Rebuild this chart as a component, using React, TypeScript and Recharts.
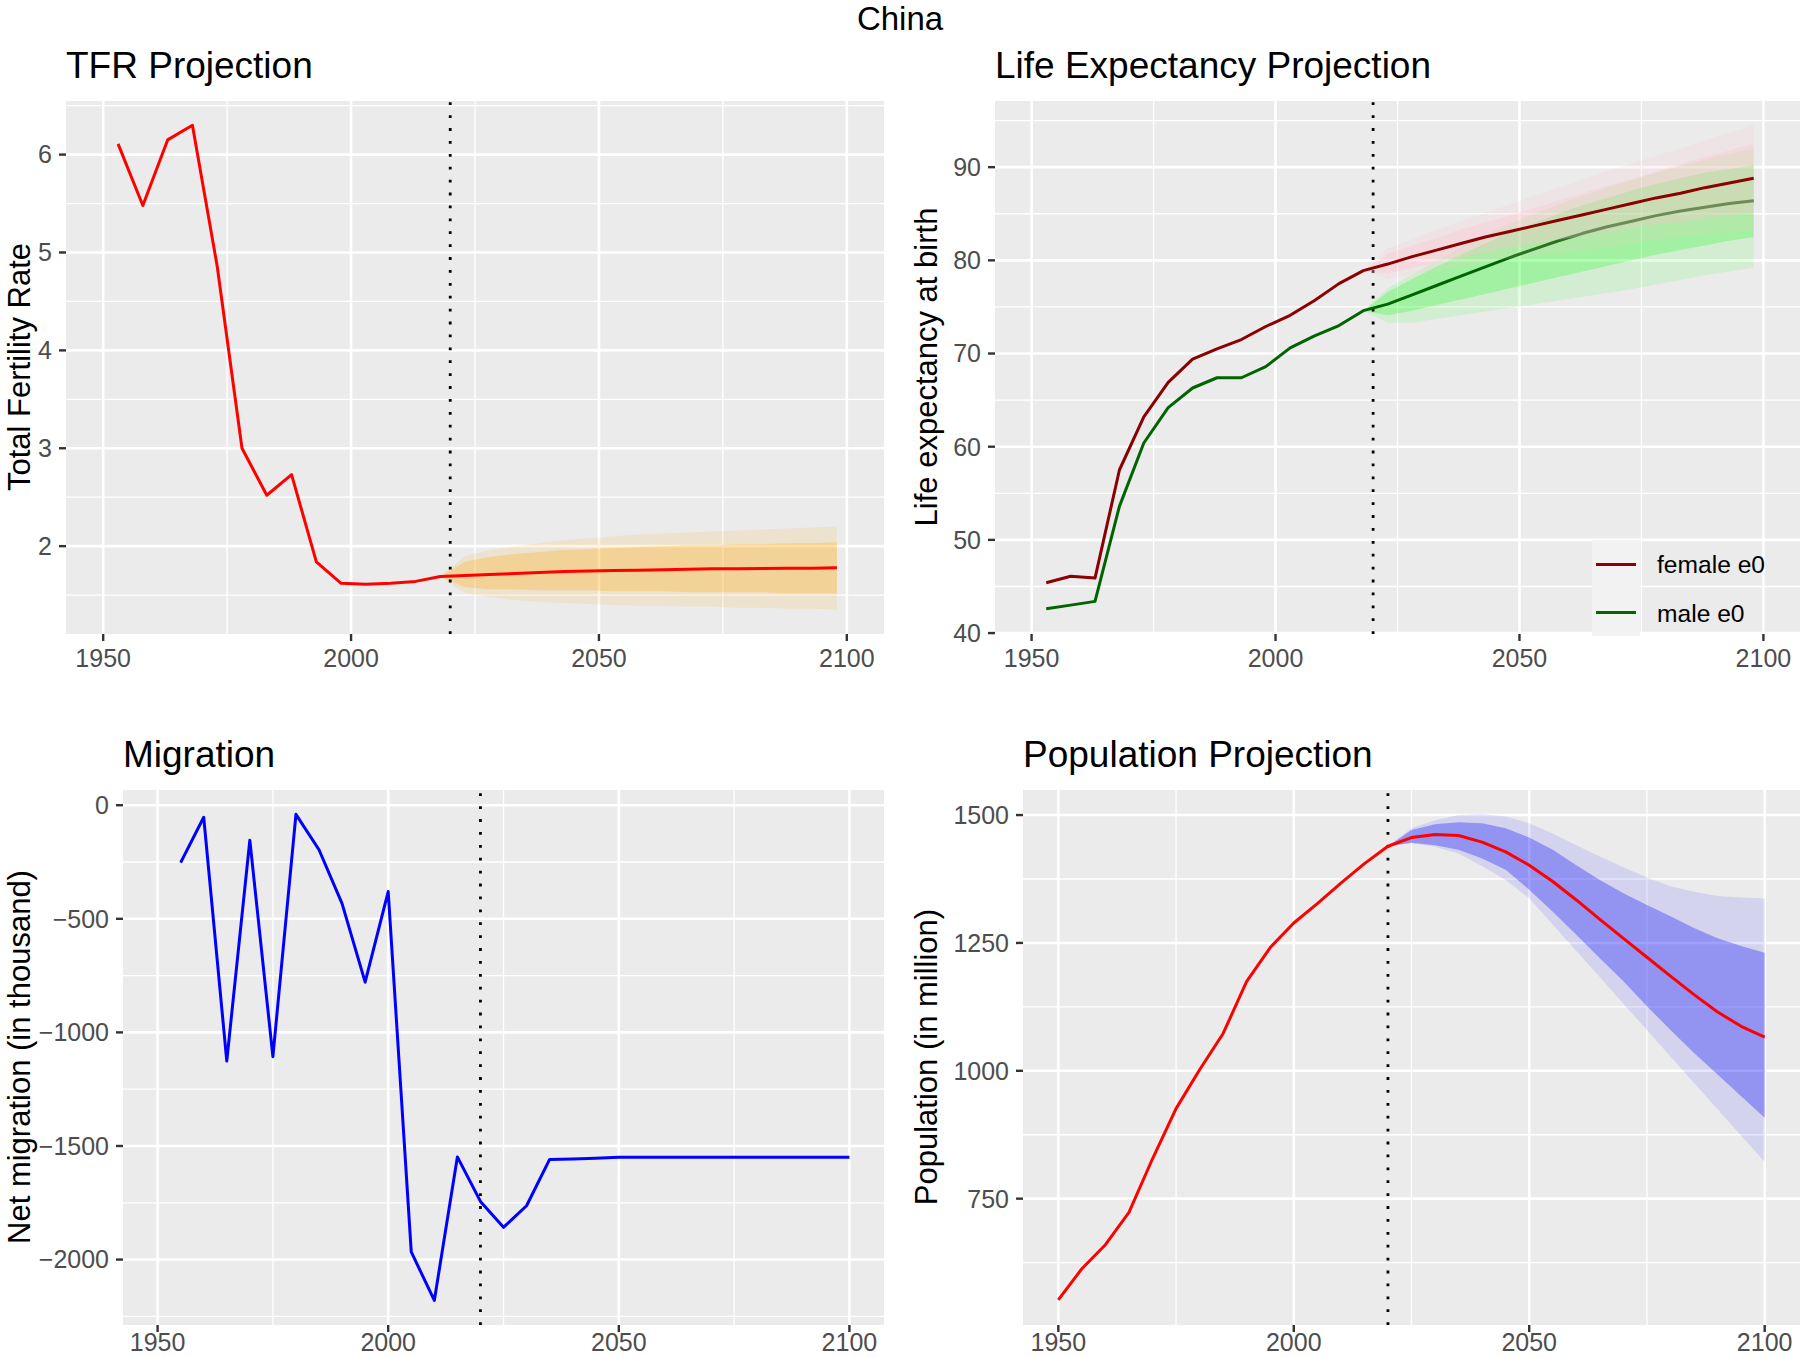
import React from 'react';
import {
  Area,
  CartesianGrid,
  ComposedChart,
  Line,
  ReferenceLine,
  XAxis,
  YAxis,
} from 'recharts';

const FONT = '"Liberation Sans", Arial, Helvetica, sans-serif';

// shared x axis (ggplot expands 1950-2100 by 5%)
const X_DOMAIN: [number, number] = [1942.5, 2107.5];
const X_TICKS = [1950, 2000, 2050, 2100];
const X_MINOR = [1975, 2025, 2075];
const PROJECTION_START = 2020;

// ---- TFR ----
const tfrYears = [
  1953, 1958, 1963, 1968, 1973, 1978, 1983, 1988, 1993, 1998, 2003, 2008, 2013, 2018, 2023,
  2028, 2033, 2038, 2043, 2048, 2053, 2058, 2063, 2068, 2073, 2078, 2083, 2088, 2093, 2098,
];
const tfrMedian = [
  6.11, 5.48, 6.15, 6.3, 4.86, 3.0, 2.52, 2.73, 1.84, 1.62, 1.61, 1.62, 1.64, 1.69, 1.7, 1.71,
  1.72, 1.73, 1.74, 1.745, 1.75, 1.755, 1.76, 1.765, 1.77, 1.77, 1.772, 1.775, 1.775, 1.78,
];
const tfrProjYears = [
  2018, 2023, 2028, 2033, 2038, 2043, 2048, 2053, 2058, 2063, 2068, 2073, 2078, 2083, 2088, 2093, 2098,
];
const tfrLow80 = [1.69, 1.58, 1.56, 1.56, 1.55, 1.55, 1.55, 1.54, 1.54, 1.54, 1.53, 1.53, 1.53, 1.53, 1.52, 1.52, 1.52];
const tfrHigh80 = [1.69, 1.84, 1.89, 1.92, 1.94, 1.96, 1.97, 1.98, 1.99, 2.0, 2.01, 2.01, 2.02, 2.02, 2.03, 2.03, 2.04];
const tfrLow95 = [1.69, 1.52, 1.48, 1.45, 1.43, 1.42, 1.41, 1.4, 1.39, 1.39, 1.38, 1.38, 1.37, 1.37, 1.36, 1.36, 1.35];
const tfrHigh95 = [1.69, 1.9, 1.96, 2.0, 2.03, 2.06, 2.08, 2.1, 2.12, 2.13, 2.14, 2.15, 2.16, 2.17, 2.18, 2.19, 2.2];

// ---- life expectancy ----
const e0Years = tfrYears;
const femaleE0 = [
  45.4, 46.1, 45.9, 57.5, 63.2, 66.9, 69.4, 70.5, 71.5, 72.9, 74.1, 75.7, 77.5, 78.9, 79.6, 80.4,
  81.1, 81.8, 82.5, 83.1, 83.7, 84.3, 84.9, 85.5, 86.1, 86.7, 87.2, 87.8, 88.3, 88.8,
];
const maleE0 = [
  42.6, 43.0, 43.4, 53.6, 60.4, 64.2, 66.3, 67.4, 67.4, 68.6, 70.6, 71.9, 73.0, 74.6, 75.3, 76.3,
  77.3, 78.3, 79.3, 80.3, 81.2, 82.1, 82.9, 83.6, 84.2, 84.8, 85.3, 85.7, 86.1, 86.4,
];
const e0ProjYears = tfrProjYears;
const femaleLow80 = [78.9, 78.6, 79.2, 79.8, 80.3, 80.9, 81.4, 81.8, 82.2, 82.6, 83.0, 83.5, 83.9, 84.1, 84.5, 84.8, 85.1];
const femaleHigh80 = [78.9, 80.7, 81.6, 82.4, 83.3, 84.1, 84.8, 85.6, 86.4, 87.2, 88.0, 88.7, 89.5, 90.3, 91.1, 91.8, 92.5];
const femaleLow95 = [78.9, 78.0, 78.5, 78.9, 79.4, 79.8, 80.2, 80.5, 80.8, 81.1, 81.4, 81.8, 82.2, 82.5, 82.8, 83.0, 83.1];
const femaleHigh95 = [78.9, 81.3, 82.3, 83.3, 84.2, 85.1, 86.0, 86.9, 87.8, 88.7, 89.6, 90.4, 91.2, 92.0, 92.9, 93.7, 94.5];
const maleLow80 = [74.6, 74.1, 74.6, 75.2, 75.8, 76.4, 77.0, 77.6, 78.2, 78.8, 79.4, 80.0, 80.6, 81.1, 81.6, 82.1, 82.5];
const maleHigh80 = [74.6, 76.6, 78.0, 79.3, 80.6, 81.8, 83.0, 84.0, 85.0, 85.9, 86.7, 87.5, 88.2, 88.8, 89.4, 89.8, 90.2];
const maleLow95 = [74.6, 73.3, 73.3, 73.7, 74.1, 74.5, 74.9, 75.3, 75.7, 76.1, 76.5, 76.9, 77.4, 77.9, 78.4, 78.8, 79.2];
const maleHigh95 = [74.6, 77.0, 78.5, 80.0, 81.4, 82.7, 83.9, 85.0, 86.0, 86.9, 87.8, 88.6, 89.4, 90.1, 90.8, 91.4, 92.0];

// ---- migration (thousand) ----
const migYears = [
  1955, 1960, 1965, 1970, 1975, 1980, 1985, 1990, 1995, 2000, 2005, 2010, 2015, 2020, 2025,
  2030, 2035, 2040, 2045, 2050, 2055, 2060, 2065, 2070, 2075, 2080, 2085, 2090, 2095, 2100,
];
const migration = [
  -253, -53, -1126, -154, -1107, -40, -196, -433, -779, -380, -1966, -2180, -1548, -1744, -1858,
  -1763, -1559, -1557, -1554, -1550, -1550, -1550, -1550, -1550, -1550, -1550, -1550, -1550, -1550, -1550,
];

// ---- population (million) ----
const popYears = [
  1950, 1955, 1960, 1965, 1970, 1975, 1980, 1985, 1990, 1995, 2000, 2005, 2010, 2015, 2020, 2025,
  2030, 2035, 2040, 2045, 2050, 2055, 2060, 2065, 2070, 2075, 2080, 2085, 2090, 2095, 2100,
];
const population = [
  552, 613, 660, 723, 828, 926, 1002, 1073, 1175, 1241, 1289, 1327, 1367, 1405, 1439, 1456,
  1462, 1460, 1447, 1428, 1402, 1370, 1334, 1296, 1259, 1222, 1185, 1149, 1115, 1087, 1066,
];
const popProjYears = [
  2020, 2025, 2030, 2035, 2040, 2045, 2050, 2055, 2060, 2065, 2070, 2075, 2080, 2085, 2090, 2095, 2100,
];
const popLow80 = [1439, 1446, 1441, 1432, 1415, 1393, 1354, 1311, 1266, 1220, 1175, 1126, 1080, 1035, 993, 950, 908];
const popHigh80 = [1439, 1471, 1482, 1486, 1484, 1474, 1456, 1432, 1402, 1373, 1347, 1324, 1302, 1279, 1259, 1244, 1231];
const popLow95 = [1439, 1445, 1438, 1425, 1400, 1373, 1337, 1286, 1234, 1183, 1131, 1080, 1028, 976, 925, 873, 822];
const popHigh95 = [1439, 1474, 1490, 1500, 1502, 1497, 1484, 1464, 1441, 1419, 1398, 1378, 1361, 1350, 1342, 1339, 1337];

type Row = { year: number; [key: string]: number | number[] | undefined };
type Column = { years: number[]; key: string; values: (number | number[])[] };

function makeRows(columns: Column[]): Row[] {
  const byYear = new Map<number, Row>();
  for (const col of columns) {
    col.years.forEach((year, i) => {
      const row = byYear.get(year) ?? { year };
      row[col.key] = col.values[i];
      byYear.set(year, row);
    });
  }
  return [...byYear.values()].sort((a, b) => a.year - b.year);
}

const pairs = (lo: number[], hi: number[]) => lo.map((v, i) => [v, hi[i]]);

const tfrRows = makeRows([
  { years: tfrYears, key: 'tfr', values: tfrMedian },
  { years: tfrProjYears, key: 'tfr80', values: pairs(tfrLow80, tfrHigh80) },
  { years: tfrProjYears, key: 'tfr95', values: pairs(tfrLow95, tfrHigh95) },
]);

const e0Rows = makeRows([
  { years: e0Years, key: 'female', values: femaleE0 },
  { years: e0Years, key: 'male', values: maleE0 },
  { years: e0ProjYears, key: 'female80', values: pairs(femaleLow80, femaleHigh80) },
  { years: e0ProjYears, key: 'female95', values: pairs(femaleLow95, femaleHigh95) },
  { years: e0ProjYears, key: 'male80', values: pairs(maleLow80, maleHigh80) },
  { years: e0ProjYears, key: 'male95', values: pairs(maleLow95, maleHigh95) },
]);

const migRows = makeRows([{ years: migYears, key: 'mig', values: migration }]);

const popRows = makeRows([
  { years: popYears, key: 'pop', values: population },
  { years: popProjYears, key: 'pop80', values: pairs(popLow80, popHigh80) },
  { years: popProjYears, key: 'pop95', values: pairs(popLow95, popHigh95) },
]);

const tickStyle = { fill: '#4D4D4D', fontSize: 25, fontFamily: FONT };
const tickLineStyle = { stroke: '#333333', strokeWidth: 2.4 };

const band = (key: string, fill: string, opacity: number) => (
  <Area
    key={key}
    type="linear"
    dataKey={key}
    stroke="none"
    fill={fill}
    fillOpacity={opacity}
    dot={false}
    activeDot={false}
    isAnimationActive={false}
  />
);

const line = (key: string, color: string) => (
  <Line
    key={key}
    type="linear"
    dataKey={key}
    stroke={color}
    strokeWidth={3}
    strokeLinejoin="round"
    dot={false}
    activeDot={false}
    isAnimationActive={false}
  />
);

const dotted = () => (
  <ReferenceLine
    key="start"
    x={PROJECTION_START}
    stroke="#000000"
    strokeWidth={2.8}
    strokeDasharray="2.8 10.1"
  />
);

interface PanelProps {
  left: number;
  top: number;
  plotWidth: number;
  plotHeight: number;
  axisWidth: number;
  rightPad: number;
  labelGap?: number;
  data: Row[];
  yDomain: [number, number];
  yTicks: number[];
  yMinor: number[];
  yFormat?: (v: number) => string;
  series: React.ReactNode[];
  // drawn in a second, transparent chart on top (so it covers the first one's lines)
  overlay?: React.ReactNode[];
}

function Panel(p: PanelProps) {
  const padTop = 4;
  const xAxisHeight = 50;
  const width = p.axisWidth + p.plotWidth + p.rightPad;
  const height = padTop + p.plotHeight + xAxisHeight;
  return (
    <div style={{ position: 'absolute', left: p.left - p.axisWidth, top: p.top - padTop }}>
      <ComposedChart
        width={width}
        height={height}
        data={p.data}
        margin={{ top: padTop, right: p.rightPad, bottom: 0, left: 0 }}
      >
        <CartesianGrid
          fill="#EBEBEB"
          fillOpacity={1}
          stroke="#FFFFFF"
          strokeWidth={1.3}
          horizontalValues={p.yMinor}
          verticalValues={X_MINOR}
        />
        <CartesianGrid
          stroke="#FFFFFF"
          strokeWidth={2.6}
          horizontalValues={p.yTicks}
          verticalValues={X_TICKS}
        />
        <XAxis
          type="number"
          dataKey="year"
          domain={X_DOMAIN}
          ticks={X_TICKS}
          interval={0}
          allowDataOverflow
          axisLine={false}
          tickLine={tickLineStyle}
          tickSize={7}
          tickMargin={p.labelGap ?? 8}
          height={xAxisHeight}
          tick={tickStyle}
        />
        <YAxis
          type="number"
          domain={p.yDomain}
          ticks={p.yTicks}
          interval={0}
          allowDataOverflow
          axisLine={false}
          tickLine={tickLineStyle}
          tickSize={7}
          tickMargin={7}
          width={p.axisWidth}
          tick={tickStyle}
          tickFormatter={p.yFormat}
        />
        {p.series}
      </ComposedChart>
      {p.overlay && (
        <div style={{ position: 'absolute', left: 0, top: 0 }}>
          <ComposedChart
            width={width}
            height={height}
            data={p.data}
            margin={{ top: padTop, right: p.rightPad, bottom: xAxisHeight, left: p.axisWidth }}
          >
            <XAxis type="number" dataKey="year" domain={X_DOMAIN} allowDataOverflow hide />
            <YAxis type="number" domain={p.yDomain} allowDataOverflow hide />
            {p.overlay}
          </ComposedChart>
        </div>
      )}
    </div>
  );
}

function Title({ text, left, top }: { text: string; left: number; top: number }) {
  return (
    <div style={{ position: 'absolute', left, top, fontSize: 37, lineHeight: '37px', whiteSpace: 'nowrap' }}>
      {text}
    </div>
  );
}

function AxisTitle({ text, cx, cy }: { text: string; cx: number; cy: number }) {
  return (
    <div
      style={{
        position: 'absolute',
        left: cx,
        top: cy,
        fontSize: 31,
        lineHeight: '25px',
        whiteSpace: 'nowrap',
        transform: 'translate(-50%, -50%) rotate(-90deg)',
      }}
    >
      {text}
    </div>
  );
}

function E0Legend() {
  const items = [
    { label: 'female e0', color: '#8B0000' },
    { label: 'male e0', color: '#006400' },
  ];
  return (
    <>
      {items.map((it, i) => (
        <React.Fragment key={it.label}>
          <div style={{ position: 'absolute', left: 1592, top: 540 + i * 48, width: 48, height: 48, background: '#F2F2F2' }}>
            <div style={{ position: 'absolute', left: 4, top: 22.5, width: 40, height: 3, background: it.color }} />
          </div>
          <div style={{ position: 'absolute', left: 1657, top: 552 + i * 48.5, fontSize: 24.6, lineHeight: '25px', whiteSpace: 'nowrap' }}>
            {it.label}
          </div>
        </React.Fragment>
      ))}
    </>
  );
}

const minus = (v: number) => (v < 0 ? `\u2212${Math.abs(v)}` : `${v}`);

export default function App() {
  return (
    <div
      style={{
        position: 'absolute',
        left: 0,
        top: 0,
        width: 1800,
        height: 1357,
        overflow: 'hidden',
        background: '#FFFFFF',
        fontFamily: FONT,
        color: '#000000',
      }}
    >
      <div
        style={{
          position: 'absolute',
          left: 900,
          top: 7,
          transform: 'translateX(-50%)',
          fontSize: 33,
          lineHeight: '24px',
          whiteSpace: 'nowrap',
        }}
      >
        China
      </div>

      <Title text="TFR Projection" left={66} top={47} />
      <Title text="Life Expectancy Projection" left={995} top={47} />
      <Title text="Migration" left={123} top={736} />
      <Title text="Population Projection" left={1023} top={736} />

      <Panel
        left={66}
        top={101}
        plotWidth={818}
        plotHeight={533}
        axisWidth={66}
        rightPad={6}
        data={tfrRows}
        yDomain={[1.1025, 6.5475]}
        yTicks={[2, 3, 4, 5, 6]}
        yMinor={[1.5, 2.5, 3.5, 4.5, 5.5, 6.5]}
        series={[
          band('tfr95', '#FFA500', 0.12),
          band('tfr80', '#FFA500', 0.27),
          dotted(),
          line('tfr', '#FF0000'),
        ]}
      />

      <Panel
        left={995}
        top={101}
        plotWidth={805}
        plotHeight={533}
        axisWidth={80}
        rightPad={0}
        data={e0Rows}
        yDomain={[39.9, 97.1]}
        yTicks={[40, 50, 60, 70, 80, 90]}
        yMinor={[45, 55, 65, 75, 85, 95]}
        series={[
          band('male95', '#00FF00', 0.1),
          band('male80', '#00FF00', 0.23),
          dotted(),
          line('male', '#006400'),
        ]}
        overlay={[
          band('female95', '#FFC0CB', 0.16),
          band('female80', '#FFC0CB', 0.32),
          line('female', '#8B0000'),
        ]}
      />

      <Panel
        left={123}
        top={790}
        plotWidth={761}
        plotHeight={535}
        axisWidth={110}
        rightPad={6}
        labelGap={1}
        data={migRows}
        yDomain={[-2288, 67]}
        yTicks={[-2000, -1500, -1000, -500, 0]}
        yMinor={[-2250, -1750, -1250, -750, -250]}
        yFormat={minus}
        series={[dotted(), line('mig', '#0000FF')]}
      />

      <Panel
        left={1023}
        top={790}
        plotWidth={777}
        plotHeight={535}
        axisWidth={110}
        rightPad={0}
        labelGap={1}
        data={popRows}
        yDomain={[503, 1549]}
        yTicks={[750, 1000, 1250, 1500]}
        yMinor={[625, 875, 1125, 1375]}
        series={[
          band('pop95', '#0000FF', 0.1),
          band('pop80', '#0000FF', 0.3),
          dotted(),
          line('pop', '#FF0000'),
        ]}
      />

      <AxisTitle text="Total Fertility Rate" cx={18.5} cy={367} />
      <AxisTitle text="Life expectancy at birth" cx={926} cy={367} />
      <AxisTitle text="Net migration (in thousand)" cx={18.5} cy={1057} />
      <AxisTitle text="Population (in million)" cx={926} cy={1057} />

      <E0Legend />
    </div>
  );
}
